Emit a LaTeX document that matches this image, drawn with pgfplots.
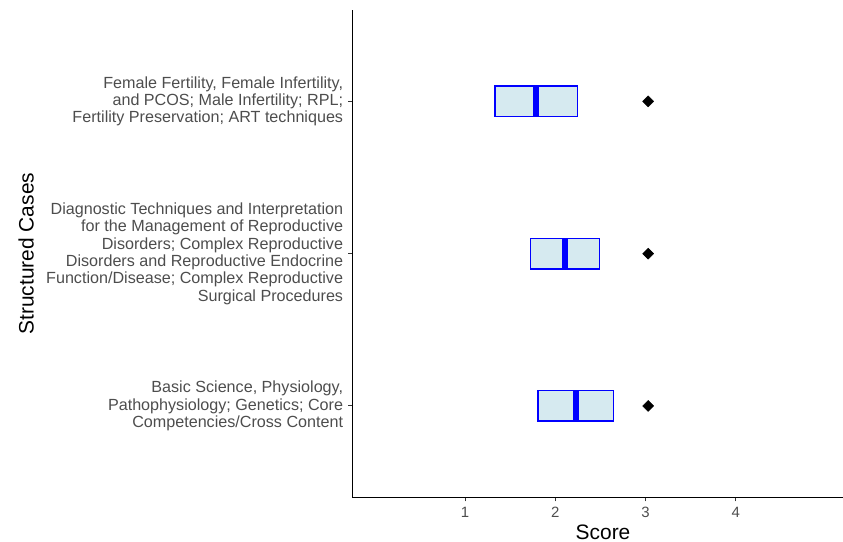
\documentclass[border=0pt]{standalone}
\usepackage{pgfplots}
\pgfplotsset{compat=1.18}
\usepgfplotslibrary{statistics}
\usepackage{fontspec}
\setmainfont{Liberation Sans}
\definecolor{boxfill}{HTML}{D6EAF0}
\definecolor{gthirty}{HTML}{4D4D4D}
\definecolor{gtwenty}{HTML}{333333}
\begin{document}
\begin{tikzpicture}
\begin{axis}[
  scale only axis,
  width=490.7bp, height=487.3bp,
  xmin=-0.25, xmax=5.19,
  ymin=0.4, ymax=3.6,
  axis x line=bottom, axis y line=left,
  axis line style={-, line width=1.2bp, black},
  xtick={1,2,3,4},
  ytick={1,2,3},
  yticklabels={
    {Basic Science, Physiology,\\Pathophysiology; Genetics; Core\\Competencies/Cross Content},
    {Diagnostic Techniques and Interpretation\\for the Management of Reproductive\\Disorders; Complex Reproductive\\Disorders and Reproductive Endocrine\\Function/Disease; Complex Reproductive\\Surgical Procedures},
    {Female Fertility, Female Infertility,\\and PCOS; Male Infertility; RPL;\\Fertility Preservation; ART techniques}},
  tick align=outside,
  major tick length=4bp,
  tick style={line width=1bp, gtwenty},
  /pgf/number format/assume math mode=true,
  xticklabel style={font=\fontsize{15}{17}\selectfont, text=gthirty, inner sep=0pt, yshift=-6bp},
  yticklabel style={font=\fontsize{16.2}{17.4}\selectfont, text=gthirty, align=right, inner sep=0pt, xshift=-5bp},
  xlabel={Score},
  ylabel={Structured Cases},
  xlabel style={font=\fontsize{21}{24}\selectfont, at={(axis description cs:0.511,-0.086)}, anchor=base},
  ylabel style={font=\fontsize{21}{24}\selectfont, at={(axis description cs:-0.6495,0.5)}, anchor=base},
  boxplot/draw direction=x,
  boxplot/box extend=0.2,
  boxplot/whisker extend=0,
  boxplot/every whisker/.style={draw=none},
  boxplot/every box/.style={draw=blue, line width=1.4bp, fill=boxfill},
  boxplot/every median/.style={draw=blue, line width=6bp},
  clip=false,
]
\addplot+[boxplot prepared={draw position=1, lower whisker=1.809, lower quartile=1.809, median=2.235, upper quartile=2.649, upper whisker=2.649}, mark=none] coordinates {};
\addplot+[boxplot prepared={draw position=2, lower whisker=1.728, lower quartile=1.728, median=2.113, upper quartile=2.493, upper whisker=2.493}, mark=none] coordinates {};
\addplot+[boxplot prepared={draw position=3, lower whisker=1.330, lower quartile=1.330, median=1.787, upper quartile=2.246, upper whisker=2.246}, mark=none] coordinates {};
\addplot[only marks, mark=square*, mark size=3.9bp, mark options={rotate=45, fill=black, draw=black}] coordinates {(3.03,1) (3.03,2) (3.03,3)};
\end{axis}
\pgfresetboundingbox
\path[use as bounding box] ([xshift=-352.3bp,yshift=-44.7bp]current axis.south west) rectangle ([yshift=10bp]current axis.north east);
\end{tikzpicture}
\end{document}
